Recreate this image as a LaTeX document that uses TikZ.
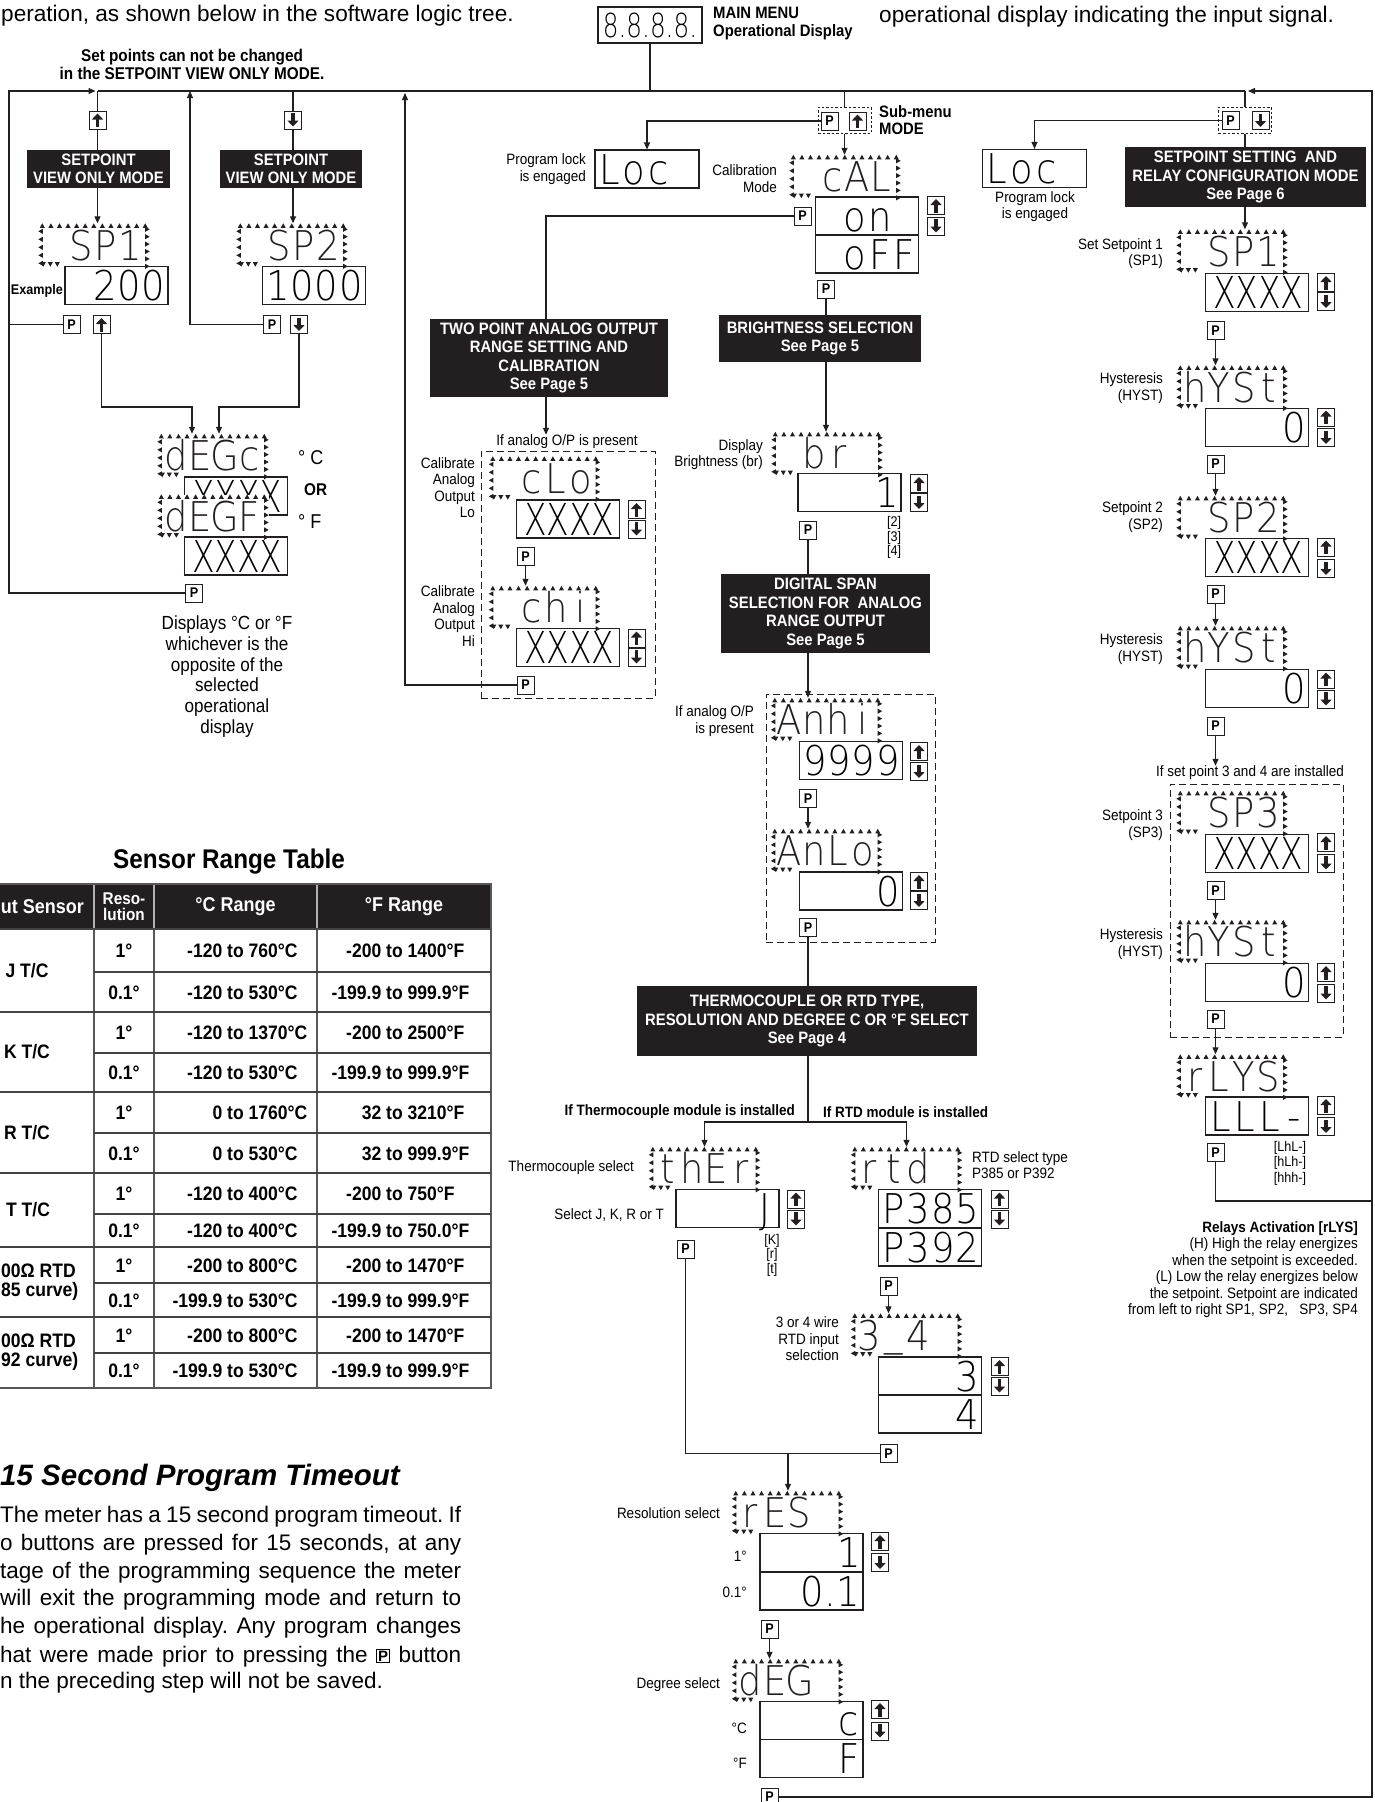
\documentclass[tikz,border=0pt]{standalone}
\usepackage{fontspec}
\setmainfont{Liberation Sans}[FakeStretch=0.9]
\newfontfamily\widefont{Liberation Sans}
\newfontfamily\lcd{DejaVuSans-ExtraLight.ttf}[FakeStretch=0.9]
\newfontfamily\lcdx{DejaVuSans-ExtraLight.ttf}[FakeStretch=0.75]
\usetikzlibrary{arrows.meta,calc}
\definecolor{ink}{RGB}{35,31,32}
\frenchspacing

% flashing marks round a display
\newcommand{\blink}[1]{%
  \foreach \i in {0,...,12}
    \fill[ink] ($(#1.north west)+(4+8.58*\i,0)$) -- ++(-2.5,4.5) -- ++(5,0) -- cycle;
  \foreach \j in {0,...,4}
    \fill[ink] ($(#1.north west)+(0,8+8*\j)$) -- ++(4.5,-2.5) -- ++(0,5) -- cycle;
  \foreach \j in {0,...,5}
    \fill[ink] ($(#1.north east)+(0,6+7.4*\j)$) -- ++(-4.5,-2.5) -- ++(0,5) -- cycle;
  \foreach \j in {0,1,2}
    \fill[ink] ($(#1.south west)+(5+7*\j,0)$) -- ++(-2.5,-4.5) -- ++(5,0) -- cycle;
}
% one cell per display character
\newcommand{\segs}[1]{\segloop#1\relax}
\def\segloop#1{\ifx#1\relax\else\makebox[24.5pt]{#1}\expandafter\segloop\fi}
\newcommand{\pkey}{\raisebox{1pt}{\setlength{\fboxsep}{1pt}\setlength{\fboxrule}{0.9pt}\fbox{\fontsize{15}{15}\selectfont\bfseries P}}}

\tikzset{
  wire/.style={draw=ink, line width=1.1pt},
  flow/.style={wire, -{Triangle[length=7pt,width=6pt]}},
  btn/.style={draw=ink, line width=1pt, minimum width=17pt, minimum height=18pt, inner sep=0pt, font=\bfseries\fontsize{14}{14}\selectfont},
  btnup/.style={btn, path picture={\draw[ink, line width=3.6pt, -{Triangle[length=6pt,width=11pt]}] ([yshift=-7pt]path picture bounding box.center) -- ([yshift=6.5pt]path picture bounding box.center);}},
  btndn/.style={btn, path picture={\draw[ink, line width=3.6pt, -{Triangle[length=6pt,width=11pt]}] ([yshift=7pt]path picture bounding box.center) -- ([yshift=-6.5pt]path picture bounding box.center);}},
  lcdframe/.style={minimum width=111pt, minimum height=43pt, inner xsep=6pt, inner ysep=0pt, text width=99pt, align=left, font={\fontsize{41}{41}\lcd}, text height=30pt, text depth=0pt, text=ink},
  valbox/.style={draw=ink, line width=1.1pt, minimum width=103pt, minimum height=38pt, inner xsep=2pt, inner ysep=0pt, text width=99pt, align=right, font={\fontsize{41}{41}\lcd}, text height=30pt, text depth=0pt},
  xbox/.style={valbox, inner xsep=5pt, text width=93pt, font={\fontsize{44}{44}\lcdx}, text height=32pt},
  locbox/.style={valbox, align=left, minimum width=104pt},
  banner/.style={fill=ink, text=white, font={\bfseries\fontsize{16.5}{18.5}\selectfont}, align=center, inner sep=0pt},
  lbl/.style={font={\fontsize{15}{16.5}\selectfont}, align=right, anchor=east, inner sep=0pt},
  tag/.style={font={\bfseries\fontsize{17}{18}\selectfont}, inner sep=0pt},
  dashbox/.style={draw=ink, line width=1pt, dash pattern=on 7pt off 4pt},
  subbox/.style={draw=ink, line width=1pt, dash pattern=on 2.5pt off 2pt, minimum width=53pt, minimum height=26pt},
  cell/.style={font={\bfseries\fontsize{19.5}{19.5}\selectfont}, inner sep=0pt},
  para/.style={font={\widefont\fontsize{22.5}{27}\selectfont}, inner sep=0pt, anchor=base west}
}

\begin{document}
\begin{tikzpicture}[x=1pt, y=-1pt, font=\fontsize{15}{16.5}\selectfont]
\useasboundingbox (0,0) rectangle (1375,1802);

% page text round the tree
\node[anchor=base west, inner sep=0pt, font={\widefont\fontsize{22.6}{26}\selectfont}] (introL) at (1,21) {peration, as shown below in the software logic tree.};
\node[anchor=base west, inner sep=0pt, font={\widefont\fontsize{22.6}{26}\selectfont}] (introR) at (879,22) {operational display indicating the input signal.};

% main menu
\node[draw=ink, line width=1.1pt, minimum width=104pt, minimum height=36pt, inner sep=0pt, font={\fontsize{33}{33}\lcdx}] (mainbox) at (650,25) {8.8.8.8.};
\node[tag, align=left, anchor=west, font={\bfseries\fontsize{16.5}{18}\selectfont}] (mainlbl) at (713,24) {MAIN MENU\\Operational Display};
\coordinate (busL) at (97.5,91);
\coordinate (busR) at (1245,91);
\coordinate (loopL) at (9,91);
\coordinate (loopR) at (1372,91);
\draw[wire] (busL) -- (busR);
\draw[wire] (mainbox.south) -- (mainbox.south |- busL);

% setpoint view only
\node[tag, align=center] (viewnote) at (192,64) {Set points can not be changed\\in the SETPOINT VIEW ONLY MODE.};
\node[btnup] (upA) at (97.5,120) {};
\node[banner, minimum width=143pt, minimum height=38pt] (viewA) at (98.5,169) {SETPOINT\\VIEW ONLY MODE};
\node[lcdframe] (sp1) at (94,245) {\segs{~SP1}};
\blink{sp1}
\node[valbox] (val200) at (116.5,285.5) {\segs{200}};
\node[tag, anchor=east, font={\bfseries\fontsize{14}{14}\selectfont}] (example) at (63,291) {Example};
\node[btn] (pA) at (71.5,324.5) {P};
\node[btnup] (upB) at (101.5,324.5) {};

\node[btndn] (dnA) at (293,120) {};
\node[banner, minimum width=142pt, minimum height=38pt] (viewB) at (291,169) {SETPOINT\\VIEW ONLY MODE};
\node[lcdframe] (sp2) at (292,245) {\segs{~SP2}};
\blink{sp2}
\node[valbox] (val1000) at (314,285.5) {\segs{1000}};
\node[btn] (pB) at (272,324.5) {P};
\node[btndn] (dnB) at (299,324.5) {};

% degree view
\node[lcdframe] (degc) at (213,455.5) {\segs{dEGc}};
\blink{degc}
\node[xbox] (valc) at (236,496) {XXXX};
\node[lcdframe, fill=white] (degf) at (213,516) {\segs{dEGF}};
\blink{degf}
\node[xbox] (valf) at (236,556) {XXXX};
\node[btn] (pD) at (194,593) {P};
\node[anchor=west, inner sep=0pt, font=\fontsize{20}{20}\selectfont] (unitC) at (298,458) {° C};
\node[tag, anchor=west] (orTag) at (304,490) {OR};
\node[anchor=west, inner sep=0pt, font=\fontsize{20}{20}\selectfont] (unitF) at (298,522) {° F};
\node[align=center, inner sep=0pt, font=\fontsize{19}{20.7}\selectfont] (degnote) at (227,676.5) {Displays °C or °F\\whichever is the\\opposite of the\\selected\\operational\\display};

\draw[wire] (busL) -- (upA.north);
\draw[wire] (upA.south) -- (upA.south |- viewA.north);
\draw[flow] (upA.south |- viewA.south) -- (upA.south |- sp1.north);
\draw[wire] (dnA.north |- busL) -- (dnA.north);
\draw[wire] (dnA.south) -- (dnA.south |- viewB.north);
\draw[flow] (dnA.south |- viewB.south) -- (dnA.south |- sp2.north);
\draw[flow, shorten >=2pt] (pD.west) -| (loopL) -- (busL);
\draw[wire] (pA.west) -- (pA.west -| loopL);
\coordinate (retA) at (190,91);
\draw[flow] (pB.west) -| (retA);
\coordinate (jA) at (192,407);
\coordinate (jB) at (219,407);
\draw[flow] (upB.south) |- (jA) -- (jA |- degc.north);
\draw[flow] (dnB.south) |- (jB) -- (jB |- degc.north);

% sub-menu
\node[subbox] (subA) at (844.5,120) {};
\node[btn] (pS) at (829.5,121) {P};
\node[btnup] (upS) at (857.5,121) {};
\node[tag, align=left, anchor=west, font={\bfseries\fontsize{16.5}{17}\selectfont}] (subLbl) at (879,120.5) {Sub-menu\\MODE};
\node[locbox] (locA) at (647,169) {\segs{Loc}};
\node[lbl] (lockA) at (586,169) {Program lock\\is engaged};

% calibration
\node[lcdframe] (cal) at (845,176.5) {\segs{~cAL}};
\blink{cal}
\node[lbl] (calLbl) at (777,178.5) {Calibration\\Mode};
\node[valbox] (calOn) at (867,216) {\segs{on~}};
\node[valbox] (calOff) at (867,254) {\segs{oFF}};
\node[btnup] (upCal) at (936,205.5) {};
\node[btndn] (dnCal) at (936,226) {};
\node[btn] (pCal) at (802.5,216) {P};
\node[btn] (pOff) at (826,289) {P};

\draw[wire] (subA.north |- busL) -- (subA.north);
\draw[flow] (subA.south) -- (subA.south |- cal.north);
\draw[flow] (pS.west) -| (locA.north);

% analog calibration
\node[banner, minimum width=238pt, minimum height=78pt] (twoPt) at (549,358) {TWO POINT ANALOG OUTPUT\\RANGE SETTING AND\\CALIBRATION\\See Page 5};
\node[inner sep=0pt] (anaNote) at (567,442) {If analog O/P is present};
\node[dashbox, minimum width=174pt, minimum height=247pt] (dashA) at (568,574.5) {};
\node[lcdframe] (clo) at (544.5,478) {\segs{~cLo}};
\blink{clo}
\node[lbl] (cloLbl) at (475,487.5) {Calibrate\\Analog\\Output\\Lo};
\node[xbox] (valLo) at (568,519) {XXXX};
\node[btnup] (upLo) at (636.5,509.5) {};
\node[btndn] (dnLo) at (636.5,529) {};
\node[btn] (pLo) at (525.5,556.5) {P};
\node[lcdframe] (chi) at (544.5,607.5) {\segs{~chi}};
\blink{chi}
\node[lbl] (chiLbl) at (475,616) {Calibrate\\Analog\\Output\\Hi};
\node[xbox] (valHi) at (568,647.5) {XXXX};
\node[btnup] (upHi) at (636.5,638) {};
\node[btndn] (dnHi) at (636.5,657) {};
\node[btn] (pHi) at (525.5,685) {P};

\draw[wire] (pCal.west) -| ([xshift=-3pt]twoPt.north);
\draw[flow] ([xshift=-3pt]twoPt.south) -- ([xshift=-3pt]twoPt.south |- anaNote.north);
\draw[flow] (pLo.south) -- (pLo.south |- chi.north);
\coordinate (retB) at (405,93);
\draw[flow] (pHi.west) -| (retB);

% brightness
\node[banner, minimum width=202pt, minimum height=47pt] (bright) at (820,338.5) {BRIGHTNESS SELECTION\\See Page 5};
\node[lcdframe] (br) at (827,453.5) {\segs{~br}};
\blink{br}
\node[lbl] (brLbl) at (763,454.5) {Display\\Brightness (br)};
\node[valbox] (valBr) at (849.5,492.5) {\segs{1}};
\node[btnup] (upBr) at (919,483.5) {};
\node[btndn] (dnBr) at (919,502.5) {};
\node[btn] (pBr) at (808,530) {P};
\node[align=center, inner sep=0pt, font=\fontsize{14}{14.5}\selectfont] (brOpt) at (894,537.5) {[2]\\{[3]}\\{[4]}};

% analog span
\node[banner, minimum width=209pt, minimum height=79pt] (span) at (825.5,613.5) {DIGITAL SPAN\\SELECTION FOR\ \ ANALOG\\RANGE OUTPUT\\See Page 5};
\node[dashbox, minimum width=169pt, minimum height=248pt] (dashB) at (850.5,818) {};
\node[lcdframe] (anhi) at (826.5,719.5) {\segs{Anhi}};
\blink{anhi}
\node[lbl] (anhiLbl) at (754,721) {If analog O/P\\is present};
\node[valbox] (val9999) at (851,760.5) {\segs{9999}};
\node[btnup] (upAh) at (919,751.5) {};
\node[btndn] (dnAh) at (919,771.5) {};
\node[btn] (pAh) at (808,798.5) {P};
\node[lcdframe] (anlo) at (826.5,850.5) {\segs{AnLo}};
\blink{anlo}
\node[valbox] (valAl) at (851,891) {\segs{0}};
\node[btnup] (upAl) at (919,881.5) {};
\node[btndn] (dnAl) at (919,900.5) {};
\node[btn] (pAl) at (808,927.5) {P};

\draw[wire] (pOff.south) -- (pOff.south |- bright.north);
\draw[flow] (pOff.south |- bright.south) -- (pOff.south |- br.north);
\draw[wire] (pBr.south) -- (pBr.south |- span.north);
\draw[flow] (pBr.south |- span.south) -- (pBr.south |- anhi.north);
\draw[flow] (pAh.south) -- (pAh.south |- anlo.north);

% sensor type
\node[banner, minimum width=340pt, minimum height=70pt] (thermo) at (807,1021) {THERMOCOUPLE OR RTD TYPE,\\RESOLUTION AND DEGREE C OR °F SELECT\\See Page 4};
\node[tag, anchor=east, font={\bfseries\fontsize{15}{15}\selectfont}] (tcNote) at (795,1112) {If Thermocouple module is installed};
\node[tag, anchor=west, font={\bfseries\fontsize{15}{15}\selectfont}] (rtdNote) at (823,1112) {If RTD module is installed};
\coordinate (split) at (808,1122);

\node[lcdframe] (ther) at (704.5,1168.5) {\segs{thEr}};
\blink{ther}
\node[lbl] (therLbl) at (634,1168) {Thermocouple select};
\node[valbox] (valJ) at (727.5,1208.5) {\segs{J}};
\node[lbl] (jLbl) at (664,1215) {Select J, K, R or T};
\node[btnup] (upJ) at (796,1199) {};
\node[btndn] (dnJ) at (796,1219) {};
\node[btn] (pJ) at (685.5,1249) {P};
\node[align=center, inner sep=0pt, font=\fontsize{14}{14.5}\selectfont] (jOpt) at (772,1255) {[K]\\{[r]}\\{[t]}};

\node[lcdframe] (rtd) at (906.5,1168.5) {\segs{rtd}};
\blink{rtd}
\node[lbl, anchor=west, align=left] (rtdLbl) at (972,1165) {RTD select type\\P385 or P392};
\node[valbox] (val385) at (930,1208.5) {\segs{P385}};
\node[valbox] (val392) at (930,1247) {\segs{P392}};
\node[btnup] (upR) at (999.5,1199) {};
\node[btndn] (dnR) at (999.5,1219) {};
\node[btn] (pR) at (888.5,1286) {P};
\node[lcdframe] (wire34) at (906.5,1335) {\segs{3}\raisebox{5pt}{\makebox[24.5pt]{\_}}\segs{4}};
\blink{wire34}
\node[lbl] (w34Lbl) at (839,1339) {3 or 4 wire\\RTD input\\selection};
\node[valbox] (val3) at (930,1376) {\segs{3}};
\node[valbox] (val4) at (930,1414) {\segs{4}};
\node[btnup] (up34) at (999.5,1366.5) {};
\node[btndn] (dn34) at (999.5,1386) {};
\node[btn] (p34) at (888.5,1453.5) {P};
\coordinate (join) at (788,1453.5);

\draw[wire] (pAl.south) -- (pAl.south |- thermo.north);
\draw[wire] (pAl.south |- thermo.south) -- (split);
\draw[flow] (split) -| (ther.north);
\draw[flow] (split) -| (rtd.north);
\draw[flow] (pR.south) -- (pR.south |- wire34.north);
\draw[wire] (pJ.south) |- (p34.west);

% resolution and degree
\node[lcdframe] (res) at (787.5,1512.5) {\segs{rES}};
\blink{res}
\node[lbl] (resLbl) at (720,1513) {Resolution select};
\node[valbox] (val1) at (811.5,1552.5) {\segs{1}};
\node[valbox] (val01) at (811.5,1591) {\segs{0}.\segs{1}};
\node[lbl] (oneLbl) at (747,1556) {1°};
\node[lbl] (tenthLbl) at (747,1592) {0.1°};
\node[btnup] (upRs) at (880,1541.5) {};
\node[btndn] (dnRs) at (880,1562.5) {};
\node[btn] (pRs) at (769.5,1629) {P};
\node[lcdframe] (deg) at (787.5,1680.5) {\segs{dEG}};
\blink{deg}
\node[lbl] (degLbl) at (720,1685) {Degree select};
\node[valbox] (valC) at (811.5,1720.5) {\segs{c}};
\node[valbox] (valF) at (811.5,1758.5) {\segs{F}};
\node[lbl] (cLbl) at (747,1728) {°C};
\node[lbl] (fLbl) at (747,1763) {°F};
\node[btnup] (upDg) at (880,1709.5) {};
\node[btndn] (dnDg) at (880,1731) {};
\node[btn] (pDg) at (769.5,1797) {P};

\draw[flow] (join) -- (join |- res.north);
\draw[flow] (pRs.south) -- (pRs.south |- deg.north);
\draw[flow] (pDg.east) -| (loopR) -- ([xshift=3pt]busR);

% setpoint setting
\node[subbox] (subB) at (1245,120) {};
\node[btn] (pM) at (1230.5,120.5) {P};
\node[btndn] (dnM) at (1260.5,120.5) {};
\node[locbox] (locB) at (1034.5,168.5) {\segs{Loc}};
\node[align=center, inner sep=0pt] (lockB) at (1035,206.5) {Program lock\\is engaged};
\node[banner, minimum width=241pt, minimum height=60pt] (spSet) at (1245.5,177) {SETPOINT SETTING\ \ AND\\RELAY CONFIGURATION MODE\\See Page 6};

\node[lcdframe] (sp1R) at (1232,251) {\segs{~SP1}};
\blink{sp1R}
\node[lbl] (sp1Lbl) at (1163,253.5) {Set Setpoint 1\\(SP1)};
\node[xbox] (valS1) at (1257,292.5) {XXXX};
\node[btnup] (upS1) at (1326,282.5) {};
\node[btndn] (dnS1) at (1326,301.5) {};
\node[btn] (pS1) at (1215.5,330.5) {P};

\node[lcdframe] (hys1) at (1232,387) {\segs{hYSt}};
\blink{hys1}
\node[lbl] (hys1Lbl) at (1163,388) {Hysteresis\\(HYST)};
\node[valbox] (valH1) at (1257,427.5) {\segs{0}};
\node[btnup] (upH1) at (1326,417) {};
\node[btndn] (dnH1) at (1326,437.5) {};
\node[btn] (pH1) at (1215.5,464) {P};

\node[lcdframe] (sp2R) at (1232,517.5) {\segs{~SP2}};
\blink{sp2R}
\node[lbl] (sp2Lbl) at (1163,517) {Setpoint 2\\(SP2)};
\node[xbox] (valS2) at (1257,557.5) {XXXX};
\node[btnup] (upS2) at (1326,547) {};
\node[btndn] (dnS2) at (1326,568.5) {};
\node[btn] (pS2) at (1215.5,594) {P};

\node[lcdframe] (hys2) at (1232,647.5) {\segs{hYSt}};
\blink{hys2}
\node[lbl] (hys2Lbl) at (1163,649) {Hysteresis\\(HYST)};
\node[valbox] (valH2) at (1257,688.5) {\segs{0}};
\node[btnup] (upH2) at (1326,679) {};
\node[btndn] (dnH2) at (1326,699) {};
\node[btn] (pH2) at (1215.5,726) {P};

\node[inner sep=0pt] (note34) at (1250,773) {If set point 3 and 4 are installed};
\node[dashbox, minimum width=173pt, minimum height=253pt] (dashC) at (1256.5,910.5) {};
\node[lcdframe] (sp3) at (1232,812.5) {\segs{~SP3}};
\blink{sp3}
\node[lbl] (sp3Lbl) at (1163,825) {Setpoint 3\\(SP3)};
\node[xbox] (valS3) at (1257,853.5) {XXXX};
\node[btnup] (upS3) at (1326,842.5) {};
\node[btndn] (dnS3) at (1326,863) {};
\node[btn] (pS3) at (1215.5,890.5) {P};

\node[lcdframe] (hys3) at (1232,941.5) {\segs{hYSt}};
\blink{hys3}
\node[lbl] (hys3Lbl) at (1163,944) {Hysteresis\\(HYST)};
\node[valbox] (valH3) at (1257,982.5) {\segs{0}};
\node[btnup] (upH3) at (1326,972.5) {};
\node[btndn] (dnH3) at (1326,993) {};
\node[btn] (pH3) at (1215.5,1019) {P};

\node[lcdframe] (rlys) at (1232,1076) {\segs{rLYS}};
\blink{rlys}
\node[valbox] (valRl) at (1257,1116) {\segs{LLL-}};
\node[btnup] (upRl) at (1326,1105.5) {};
\node[btndn] (dnRl) at (1326,1126.5) {};
\node[btn] (pRl) at (1215.5,1152.5) {P};
\node[align=center, inner sep=0pt, font=\fontsize{14}{15.5}\selectfont] (rlOpt) at (1290,1163) {[LhL-]\\{[hLh-]}\\{[hhh-]}};
\node[anchor=east, align=right, inner sep=0pt] (relayNote) at (1358,1269.5) {\textbf{Relays Activation [rLYS]}\\(H) High the relay energizes\\when the setpoint is exceeded.\\(L) Low the relay energizes below\\the setpoint. Setpoint are indicated\\from left to right SP1, SP2,\ \ \ SP3, SP4};

\draw[wire] (busR) -- (subB.north);
\draw[flow] (pM.west) -| (locB.north);
\draw[wire] (subB.south) -- (subB.south |- spSet.north);
\draw[flow] (subB.south |- spSet.south) -- (subB.south |- sp1R.north);
\draw[flow] (pS1.south) -- (pS1.south |- hys1.north);
\draw[flow] (pH1.south) -- (pH1.south |- sp2R.north);
\draw[flow] (pS2.south) -- (pS2.south |- hys2.north);
\draw[flow] (pH2.south) -- (pH2.south |- note34.north);
\draw[flow] (pS3.south) -- (pS3.south |- hys3.north);
\draw[flow] (pH3.south) -- (pH3.south |- rlys.north);
\coordinate (rlRet) at (1372,1201);
\draw[wire] (pRl.south) |- (rlRet);

% sensor range table
\node[font=\bfseries\fontsize{27}{27}\selectfont, inner sep=0pt] (tblTitle) at (229,862) {Sensor Range Table};
\fill[ink] (-40,884) rectangle (491,929);
\foreach \xx in {94,154,317}
  \draw[gray!60, line width=1.3pt] (\xx,884) -- (\xx,929);
\foreach \xx in {94,154,317}
  \draw[ink!75, line width=1.3pt] (\xx,929) -- (\xx,1388);
\draw[ink!75, line width=1.5pt] (-40,884) -- (491,884) -- (491,1388) -- (-40,1388);
\foreach \yy in {929,1012,1092,1173,1247,1317}
  \draw[ink!85, line width=1.5pt] (-40,\yy) -- (491,\yy);
\foreach \yy in {972,1053,1133,1214,1283,1353}
  \draw[ink!85, line width=1.3pt] (94,\yy) -- (491,\yy);
\node[cell, text=white, anchor=east, font=\bfseries\fontsize{20}{20}\selectfont] (hSensor) at (84,907) {ut Sensor};
\node[cell, text=white, align=center, font=\bfseries\fontsize{17}{16}\selectfont] (hRes) at (124,907) {Reso-\\lution};
\node[cell, text=white, font=\bfseries\fontsize{20}{20}\selectfont] (hC) at (235.5,907) {°C Range};
\node[cell, text=white, font=\bfseries\fontsize{20}{20}\selectfont] (hF) at (404,907) {°F Range};
\node[cell] (sJ) at (27,970.5) {J T/C};
\node[cell] (sK) at (27,1052) {K T/C};
\node[cell] (sR) at (27,1132.5) {R T/C};
\node[cell] (sT) at (28,1210) {T T/C};
\node[cell, anchor=west, align=left, font=\bfseries\fontsize{19.5}{19}\selectfont] (sP385) at (1,1282) {00Ω RTD\\85 curve)};
\node[cell, anchor=west, align=left, font=\bfseries\fontsize{19.5}{19}\selectfont] (sP392) at (1,1352.5) {00Ω RTD\\92 curve)};
\foreach \yy/\rs/\ca/\cb/\fa/\fb [count=\k] in {
  950.5/1°/-120/to 760°C/-200/to 1400°F,
  992/0.1°/-120/to 530°C/-199.9/to 999.9°F,
  1032.5/1°/-120/to 1370°C/-200/to 2500°F,
  1072.5/0.1°/-120/to 530°C/-199.9/to 999.9°F,
  1112.5/1°/0/to 1760°C/32/to 3210°F,
  1153/0.1°/0/to 530°C/32/to 999.9°F,
  1193.5/1°/-120/to 400°C/-200/to 750°F,
  1230.5/0.1°/-120/to 400°C/-199.9/to 750.0°F,
  1265/1°/-200/to 800°C/-200/to 1470°F,
  1300/0.1°/-199.9/to 530°C/-199.9/to 999.9°F,
  1335/1°/-200/to 800°C/-200/to 1470°F,
  1370.5/0.1°/-199.9/to 530°C/-199.9/to 999.9°F}
{
  \node[cell, anchor=base] (rs\k) at (124,\yy+7) {\rs};
  \node[cell, anchor=base west] (rc\k) at (227,\yy+7) {\llap{\ca\ }\cb};
  \node[cell, anchor=base west] (rf\k) at (386,\yy+7) {\llap{\fa\ }\fb};
}

% timeout
\node[para, font={\widefont\bfseries\itshape\fontsize{29.5}{30}\selectfont}] (toHead) at (0,1485) {15 Second Program Timeout};
\node[para] (tl1) at (0,1522) {\makebox[461pt][s]{The meter has a 15 second program timeout. If}};
\node[para] (tl2) at (0,1550) {\makebox[461pt][s]{o buttons are pressed for 15 seconds, at any}};
\node[para] (tl3) at (0,1578) {\makebox[461pt][s]{tage of the programming sequence the meter}};
\node[para] (tl4) at (0,1605) {\makebox[461pt][s]{will exit the programming mode and return to}};
\node[para] (tl5) at (0,1633) {\makebox[461pt][s]{he operational display. Any program changes}};
\node[para] (tl6) at (0,1662) {\makebox[461pt][s]{hat were made prior to pressing the \pkey{} button}};
\node[para] (tl7) at (0,1688) {n the preceding step will not be saved.};
\end{tikzpicture}
\end{document}
